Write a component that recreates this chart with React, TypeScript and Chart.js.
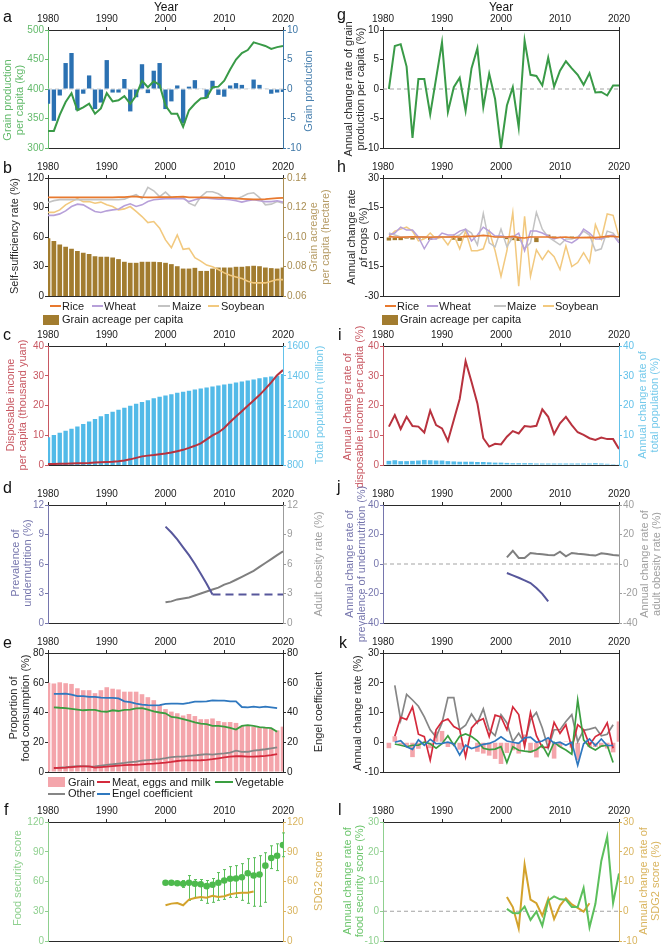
import React, { useEffect, useRef } from 'react';
import { Chart, registerables } from 'chart.js';

Chart.register(...registerables);

const FONT = "'Liberation Sans', Arial, Helvetica, sans-serif";
Chart.defaults.font.family = FONT;

/* ------------------------------------------------------------------ */
/* Data                                                                 */
/* ------------------------------------------------------------------ */

const YEAR_TICKS = [1980, 1990, 2000, 2010, 2020];

// (a) grain production per capita (kg) and grain production change
const grainPerCapitaFrom = 1980;
const grainPerCapita = [329, 329, 356, 378, 393, 364, 369, 375, 358, 367, 393, 379, 381, 388, 375, 389, 414, 403, 413, 407, 372, 358, 358, 336, 364, 375, 384, 385, 403, 404, 414, 433, 450, 461, 466, 479, 476, 473, 468, 471, 473];
const grainProductionFrom = 1980;
const grainProduction = [-2.5, -5.4, -1.1, 4.4, 6.1, -3.6, -0.8, 2.3, -3.4, -2.3, 4.9, -0.6, -0.6, 1.7, -3.8, -1.4, 4.2, -0.7, 3.1, 4.4, -3.4, -2.1, 0.6, -5.8, 0.4, 1.5, 0.1, -1.5, 1.4, -1.0, -1.3, 0.6, 1.0, 0.7, 0.1, 1.6, 0.7, 0.1, -0.8, -0.6, -0.5];
const aLeftTicks = [300, 350, 400, 450, 500];
const aRightTicks = [-10, -5, 0, 5, 10];

// (b) self-sufficiency rates (%) and grain acreage per capita (hectare)
const cropsFrom = 1980;
const riceSelf = [100.3, 100.3, 100.3, 100.3, 100.3, 100.3, 100.3, 100.3, 100.3, 100.3, 100.3, 100.3, 100.5, 100.5, 101, 101, 100.5, 100.3, 100.3, 100.5, 100.5, 100.5, 100.8, 101, 100.3, 100.3, 100.3, 100.3, 100, 100, 99.8, 99.5, 99.2, 98.8, 98.5, 98.3, 98.3, 98.5, 99, 99.5, 99.8];
const wheatSelf = [82, 82, 83.5, 86.6, 91, 93.4, 92.7, 89.3, 86, 85, 86.6, 87.6, 88.3, 91.7, 93.8, 91, 92.7, 96, 97.8, 98.5, 99, 99, 99, 99, 96, 97.8, 99.5, 99.5, 99, 98.5, 98.5, 97.8, 96.8, 95.5, 97, 97.8, 96.8, 96, 96, 96.8, 95.5];
const maizeSelf = [95, 97, 98, 98, 98, 98, 98, 98, 98, 98, 98, 98, 98, 98.5, 101, 103, 99, 110.5, 107, 101, 105.7, 100, 101, 101, 94.4, 91.7, 101, 106, 106, 104, 100, 99.5, 98.5, 101, 104, 105, 100, 92.7, 93.4, 96, 94.4];
const soybeanSelf = [85, 85, 87.6, 92.7, 96, 99, 96, 96, 94.4, 95.5, 92.7, 91, 87.6, 88.6, 91, 86, 80.8, 74.7, 75.7, 68.9, 57, 49, 62, 47.4, 48.4, 38.9, 35.5, 31.4, 29.7, 27, 23.5, 21.1, 19.4, 17.7, 15, 13.3, 13.3, 13.3, 15, 16.7, 16.7];
const acreagePerCapita = [0.0991, 0.0973, 0.095, 0.0934, 0.092, 0.0905, 0.0893, 0.0884, 0.087, 0.0866, 0.0866, 0.0861, 0.085, 0.0832, 0.0825, 0.0825, 0.0832, 0.0832, 0.0832, 0.083, 0.0825, 0.0816, 0.0802, 0.0786, 0.0786, 0.0791, 0.077, 0.077, 0.0786, 0.0793, 0.0793, 0.0793, 0.0798, 0.0798, 0.0802, 0.0805, 0.0802, 0.0793, 0.0789, 0.0786, 0.0793];
const bLeftTicks = [0, 30, 60, 90, 120];
const bRightTicks = [0.06, 0.08, 0.1, 0.12, 0.14];

// (c) disposable income per capita (thousand yuan) and total population (million)
const incomeFrom = 1980;
const income = [0.3, 0.33, 0.38, 0.42, 0.48, 0.55, 0.62, 0.69, 0.81, 0.91, 1.0, 1.1, 1.25, 1.55, 1.9, 2.4, 2.9, 3.15, 3.35, 3.6, 3.85, 4.2, 4.65, 5.1, 5.75, 6.45, 7.25, 8.6, 9.95, 10.95, 12.45, 14.45, 16.3, 18.1, 19.9, 21.7, 23.5, 25.6, 27.8, 30.2, 31.9];
const populationFrom = 1980;
const population = [987, 1001, 1017, 1030, 1044, 1059, 1075, 1093, 1110, 1127, 1143, 1158, 1172, 1185, 1199, 1211, 1224, 1236, 1248, 1258, 1267, 1276, 1285, 1292, 1300, 1308, 1314, 1321, 1328, 1335, 1341, 1347, 1354, 1361, 1368, 1375, 1383, 1390, 1395, 1400, 1412];
const cLeftTicks = [0, 10, 20, 30, 40];
const cRightTicks = [800, 1000, 1200, 1400, 1600];

// (d) prevalence of undernutrition (%) and adult obesity rate (%)
const undernutritionFrom = 2000;
const undernutrition = [9.8, 9.2, 8.5, 7.7, 6.9, 6.0, 5.0, 4.0, 2.9];
const undernutritionFloorYears = [2008, 2020];
const undernutritionFloor = [2.9, 2.9];
const obesityFrom = 2000;
const obesity = [2.1, 2.2, 2.4, 2.5, 2.6, 2.8, 3.0, 3.2, 3.4, 3.6, 3.9, 4.1, 4.4, 4.7, 5.0, 5.3, 5.7, 6.1, 6.5, 6.9, 7.3];
const dTicks = [0, 3, 6, 9, 12];

// (e) food consumption structure (%) and Engel coefficient
const grainShareFrom = 1980;
const grainShare = [60, 59.5, 60.3, 59.7, 59.2, 56.3, 55, 55, 53, 55, 57, 56, 55.5, 54, 54, 54, 52.3, 50.3, 48.3, 45, 42.3, 40.6, 39.5, 38, 39, 37.6, 35.5, 35.5, 36, 34.3, 33.5, 33.6, 33, 31, 31, 30.5, 30, 29.6, 29, 28, 30.5];
const foodLinesFrom = 1981;
const meatShare = [2.7, 2.8, 3.0, 3.3, 3.6, 3.8, 3.8, 3.0, 3.3, 3.6, 4.0, 4.3, 4.6, 4.8, 4.8, 5.1, 5.4, 5.6, 5.9, 6.3, 6.8, 7.4, 7.8, 7.8, 7.8, 7.9, 8.1, 8.6, 9.2, 9.8, 10.3, 10.6, 10.6, 10.3, 10.4, 10.6, 10.9, 11.4, 12.0];
const vegetableShare = [43.5, 43.2, 43, 42.5, 42, 41.5, 41.8, 41.7, 40.8, 40.5, 41.5, 41, 41.8, 42, 42.8, 43, 42, 40.8, 40, 39.5, 37, 36.5, 35.5, 34.5, 33.3, 32.5, 32.2, 31, 31, 30.5, 29.7, 28.5, 31, 31.5, 31, 30.2, 29.8, 29.5, 27];
const otherShare = [2.6, 2.9, 3.2, 3.6, 4.0, 4.0, 3.6, 3.8, 4.3, 4.8, 5.2, 5.7, 6.1, 6.6, 7.0, 7.6, 8.0, 8.3, 8.7, 9.3, 10.0, 10.4, 10.3, 10.8, 11.2, 11.6, 12.0, 11.7, 12.2, 12.5, 13.0, 14.3, 13.5, 13.6, 14.4, 14.8, 15.3, 15.9, 16.5];
const engel = [52.5, 52.5, 52.7, 52, 51, 51, 50.5, 50.5, 50, 49.8, 49.8, 49.5, 47.5, 47, 46, 45.3, 45, 44.8, 45, 45.8, 46, 46, 45.8, 46.5, 47.3, 47.3, 47.5, 48.2, 48, 48, 47.5, 47.5, 43.7, 43.5, 44, 43.5, 44, 43.5, 43];
const eTicks = [0, 20, 40, 60, 80];

// (f) food security score (mean, range) and SDG2 score
const foodSecurityFrom = 2000;
const foodSecurity = [58.7, 58.7, 58.3, 57.7, 58.7, 57.7, 57.3, 55.3, 56.7, 58.7, 61, 62.7, 63, 64.3, 68.3, 66, 67, 76, 83.7, 86, 96.7];
const foodSecurityLow = [58.2, 57.7, 56.8, 54, 41, 44, 41, 38, 39, 41, 42, 44, 44, 41, 38, 35, 35, 39, 73, 71, 85];
const foodSecurityHigh = [59.2, 59.7, 59.8, 61, 66, 62, 62, 61, 63, 69, 72, 75, 76, 78, 83, 84, 86, 89, 96, 98, 109];
const sdg2From = 2000;
const sdg2 = [36, 37.7, 38.2, 36, 41.7, 43.3, 44.3, 43.7, 45.5, 44.3, 45.2, 47.2, 48.2, 48.7, 48.7, 50];
const fTicks = [0, 30, 60, 90, 120];

// (g) annual change rate of grain production per capita (%)
const grainRateFrom = 1981;
const grainRate = [0, 7.3, 7.6, 3.8, -8.3, 1.7, 1.7, -4.3, 1.8, 7.9, -3.9, 0.3, 1.9, -3.7, 3.5, 6.9, -3.1, 2.6, -1.7, -10, -2.8, 0.3, -6.5, 8.2, 2.4, 2.2, 0.6, 5.3, 0.4, 3.1, 4.7, 3.5, 2.4, 0.7, 2.7, -0.6, -0.5, -1.1, 0.6, 0.6];
const gTicks = [-10, -5, 0, 5, 10];

// (h) annual change rate of crops (%)
const cropRateFrom = 1981;
const riceRate = [0.2, 0, -0.2, 0, 0.1, 0, 0, -0.1, 0, 0, 0, 0.1, 0, 0.3, 0.3, 0.5, 0.8, 0.5, 0, 0, 0, 0.3, -0.3, -0.5, 0, 0, 0, 0, -0.3, -0.2, 0, -0.4, -0.3, -0.3, -0.2, -0.3, 0, 0.3, 0.3, 0];
const wheatRate = [1, 2, 5, 3.5, 3.5, 0, -6, -1, -1, 2, 1, 1, 3, 4, -2, 1, 5, 3, 0.5, 0.5, 0, 0, 2, -7, 3, 3, 2, 0.5, -1, 0, -2, -3, -1, 4, 2, -1, -1, 0.5, 1, -3];
const maizeRate = [2, 1, 0, 0, 0, 0, 0, 0, 0, 0, 0, 0, 1, 4, 2, -4, 12, -3, -5, 4, -5, 0, 0, -6, -3, 12.5, 4, 0, -2, -4, -1, -1, 0, 3, 1, -7, -6, 3, 2, -2];
const soybeanRate = [0, 3, 4, 5, 3, -2, -1, 2, -1, 0, -4, 1, -6, 3, -7, -7, -6, 3, -7, -20, -7, 12.5, -25, 10.5, -20, -6.5, -11.5, -7, -10, -16.5, -4.5, -15, -13, -8, -13, 6.3, -1, 11.7, 11, 0];
const acreageRate = [-1.8, -1.6, -1.6, -0.8, -1.3, -0.9, -0.7, -1.5, -0.3, 0, -0.4, -1.4, -2.0, -0.5, 0, 0.5, 0, 0, -0.2, -0.4, -1.1, -1.6, -2, 0, 0.5, -2.6, 0, 1.2, 0.5, 0, 0, 0.5, 0, 0.3, 0.3, -0.3, -1.1, -0.5, -0.3, 0.5];
const hTicks = [-30, -15, 0, 15, 30];

// (i) annual change rate of disposable income and total population (%)
const incomeRateFrom = 1981;
const incomeRate = [12.9, 16.8, 12.1, 16.2, 13.1, 12.9, 10.9, 18.3, 13.4, 12.3, 8.1, 15.1, 22.2, 34.9, 28, 20.7, 9, 6.2, 7.1, 6.9, 9.5, 11.4, 10.6, 13.1, 12.9, 13.2, 18.7, 16.2, 10.4, 14, 16.2, 13.4, 11, 10.1, 9, 8.4, 9.2, 8.7, 8.7, 5.4];
const populationRate = [1.4, 1.6, 1.3, 1.3, 1.4, 1.5, 1.7, 1.6, 1.5, 1.5, 1.3, 1.2, 1.1, 1.1, 1.1, 1.0, 1.0, 0.9, 0.8, 0.8, 0.7, 0.6, 0.6, 0.6, 0.6, 0.5, 0.5, 0.5, 0.5, 0.5, 0.5, 0.5, 0.5, 0.5, 0.5, 0.6, 0.5, 0.4, 0.3, 0.1];
const iTicks = [0, 10, 20, 30, 40];

// (j) annual change rate of undernutrition and obesity (%)
const nutritionRateFrom = 2001;
const undernutritionRate = [-6.1, -7.7, -9.3, -11.1, -12.9, -16.3, -20.2, -25.4];
const obesityRate = [4.5, 9, 4.1, 4.1, 7.5, 7, 6.6, 6.1, 5.9, 8.4, 5.2, 7.5, 7, 6.6, 6.1, 5.7, 7.3, 6.8, 6.1, 5.7];
const jTicks = [-40, -20, 0, 20, 40];

// (k) annual change rate of food consumption structure (%)
const grainShareRateFrom = 1981;
const grainShareRate = [-2, 2, -0.8, -1.5, -5, -2.2, 0.3, -2, 3.5, 3.8, -1.6, -1, -2.5, 0.2, 0.2, -3.2, -3.8, -4.5, -5.6, -7.3, -3.6, -2.7, -3.8, 2.6, -3.6, -5.1, 0.2, 1.4, -5.5, -1.6, 0.3, -1.8, -6, 0.2, -1.6, -1.6, -1.6, -2.1, -3.4, 7];
const shareRateFrom = 1982;
const meatRate = [2, 8.4, 7.6, 11.9, 2.7, 1.9, -6, 4.2, 7, 7.8, 5.3, 4.2, -4.9, 4.8, 7, 7.9, 1.9, 9.1, 8.5, 4.2, 11.9, 9.3, -1.5, 10, 2.2, -1.7, -1.7, 6.7, 3, 5.9, -2, 5.9, 4.2, -0.9, 1.9, 3, 6.5, -2];
const otherRate = [19.1, 7.4, 16.1, 14.2, 12.1, 8.5, 4.2, 1.7, 6.5, 15, 15, 4.2, 5.7, 9.5, 6.5, 11.2, 4.2, 2.2, 9.3, 6.5, 0.2, 3, -0.3, 7.6, 10, 4.8, -2, 4.2, 4.2, 7, 9.3, 0.2, 4, 4.4, 5, 2.2, 2.7, 5.9];
const vegetableRate = [-0.6, -1, -1.5, -1, -1, 0, -0.5, -2, -0.5, 2.2, -1, 2, 2.8, 1.9, 0.5, -2, -2.5, -2.3, -1.5, -6.8, -1.5, -2.7, -3, -3.2, -2.5, -1, -4.6, 0, -1.5, -2.6, -4, 14.2, 0.8, -1.5, -2.6, -1.3, -1, -6.8];
const engelRate = [0, 0.5, -1.5, -2.4, 0.8, -1, 1, -0.5, -0.4, 0, -0.6, -4.3, -1, -2.1, -1.5, -0.7, -0.4, 0.4, 1.8, 0.4, 0, -0.4, 1.5, 1.7, 0, 0.4, 1.5, -0.4, 0, -1, 0, -7.7, -0.5, 1.1, -1.1, 1.1, -1.1, -1.1];
const kTicks = [-10, 0, 10, 20, 30];

// (l) annual change rate of food security score and SDG2 score (%)
const foodSecurityRateFrom = 2001;
const foodSecurityRate = [0.8, -0.6, -0.7, 1.6, -2.9, -0.1, -4.9, 3.6, 5, 4, 3.9, 1.4, 1.4, 7.8, -5.4, 2.5, 16.9, 25.1, 2.8, 12.7];
const sdg2RateFrom = 2001;
const sdg2Rate = [4.8, 1.4, -5.8, 15.7, 3.9, 2.7, -1.5, 4.2, -2.6, 1.9, 4.4, 2.3, 1.1, -0.1, 2.7];
const lTicks = [-10, 0, 10, 20, 30];

/* ------------------------------------------------------------------ */
/* Styles                                                               */
/* ------------------------------------------------------------------ */

const C = {
  frame: '#2a2a2a',
  tickText: '#1a1a1a',
  title: '#2a2a2a',
  aLine: '#399a47',
  aBar: '#2b71b2',
  aLeft: '#63ba6b',
  aRight: '#3c76a6',
  rice: '#e8792e',
  wheat: '#b7a0d9',
  maize: '#c3c3c3',
  soybean: '#f2c97f',
  acreage: '#a27c2f',
  acreageAxis: '#a98d52',
  income: '#b8323e',
  incomeAxis: '#c85862',
  population: '#52bae8',
  populationAxis: '#64c2ea',
  under: '#57579b',
  underAxis: '#7676ad',
  obesity: '#7f7f7f',
  obesityAxis: '#9c9c9c',
  grain: '#f4a5ab',
  meat: '#d42a3c',
  veg: '#3a9e40',
  other: '#868686',
  engel: '#2f78bf',
  fs: '#4dba4d',
  fsAxis: '#8fd08f',
  fsRate: '#5cbf5c',
  sdg: '#d3a22c',
  sdgAxis: '#d9b45e',
  zero: '#a3a3a3',
};

/* ------------------------------------------------------------------ */
/* Chart building                                                       */
/* ------------------------------------------------------------------ */

const COLS = [
  { x0: 0, w: 330, l: 48, r: 283 },
  { x0: 330, w: 331, l: 383, r: 619 },
];
const ROWS = [
  { t: 30, b: 148 },
  { t: 178, b: 296 },
  { t: 346, b: 465 },
  { t: 505, b: 623 },
  { t: 653, b: 772 },
  { t: 822, b: 941 },
];
const TOP_BAND = 24;
const BOTTOM_BAND = 8;
const TICK_FONT = { family: FONT, size: 10 };

const pts = (from: number, values: number[]) => values.map((y, i) => ({ x: from + i, y }));
const pairs = (xs: number[], ys: number[]) => xs.map((x, i) => ({ x, y: ys[i] }));

const line = (data: any[], color: string, axis: string, width = 1.7, extra: any = {}) => ({
  type: 'line',
  data,
  borderColor: color,
  backgroundColor: color,
  borderWidth: width,
  pointRadius: 0,
  tension: 0,
  fill: false,
  xAxisID: 'x',
  yAxisID: axis,
  order: 1,
  ...extra,
});

const bar = (data: any[], color: string, axis: string, pct: number) => ({
  type: 'bar',
  data,
  backgroundColor: color,
  borderWidth: 0,
  xAxisID: 'x',
  yAxisID: axis,
  barPercentage: pct,
  categoryPercentage: 1,
  order: 5,
});

const zeroLine = (axis: string, color = C.zero) => ({
  type: 'line',
  data: [
    { x: YEAR_TICKS[0], y: 0 },
    { x: YEAR_TICKS[YEAR_TICKS.length - 1], y: 0 },
  ],
  borderColor: color,
  borderWidth: 1,
  borderDash: [4, 3],
  pointRadius: 0,
  xAxisID: 'x',
  yAxisID: axis,
  order: 9,
});

type AxisSpec = { ticks?: number[]; color: string; text?: string; decimals?: number };
type PanelSpec = { col: number; row: number; left: AxisSpec; right: AxisSpec; datasets: any[]; plugins?: any[] };

function yScale(a: AxisSpec, position: 'left' | 'right', width: number) {
  const has = Array.isArray(a.ticks) && a.ticks.length > 0;
  const tv = has ? (a.ticks as number[]) : [0, 1];
  return {
    type: 'linear',
    position,
    min: tv[0],
    max: tv[tv.length - 1],
    afterBuildTicks: (s: any) => {
      if (has) s.ticks = tv.map((value) => ({ value }));
    },
    afterFit: (s: any) => {
      s.width = width;
    },
    grid: {
      display: has,
      drawOnChartArea: false,
      drawTicks: true,
      tickLength: 3,
      color: a.color,
      tickColor: a.color,
      lineWidth: 1,
    },
    border: { display: true, color: a.color, width: 1 },
    ticks: {
      display: has,
      color: a.text || a.color,
      font: TICK_FONT,
      padding: 1,
      autoSkip: false,
      callback: (v: any) => Number(v).toFixed(a.decimals || 0),
    },
  };
}

function buildConfig(p: PanelSpec): any {
  const c = COLS[p.col];
  return {
    type: 'line',
    data: { datasets: p.datasets },
    plugins: p.plugins || [],
    options: {
      responsive: false,
      maintainAspectRatio: false,
      animation: false,
      devicePixelRatio: 1,
      events: [],
      layout: { padding: { left: 0, right: 0, top: 0, bottom: BOTTOM_BAND }, autoPadding: false },
      plugins: { legend: { display: false }, tooltip: { enabled: false }, title: { display: false } },
      scales: {
        x: {
          type: 'linear',
          position: 'top',
          min: YEAR_TICKS[0],
          max: YEAR_TICKS[YEAR_TICKS.length - 1],
          offset: false,
          afterBuildTicks: (s: any) => {
            s.ticks = YEAR_TICKS.map((value) => ({ value }));
          },
          afterFit: (s: any) => {
            s.height = TOP_BAND;
          },
          grid: { display: true, drawOnChartArea: false, drawTicks: true, tickLength: 3, color: C.frame, offset: false },
          border: { display: true, color: C.frame, width: 1 },
          ticks: {
            color: C.tickText,
            font: TICK_FONT,
            padding: 2,
            maxRotation: 0,
            autoSkip: false,
            callback: (v: any) => String(v),
          },
        },
        xb: {
          type: 'linear',
          position: 'bottom',
          min: YEAR_TICKS[0],
          max: YEAR_TICKS[YEAR_TICKS.length - 1],
          offset: false,
          afterFit: (s: any) => {
            s.height = 0;
          },
          grid: { display: false },
          ticks: { display: false },
          border: { display: true, color: C.frame, width: 1 },
        },
        y: yScale(p.left, 'left', c.l - c.x0),
        y2: yScale(p.right, 'right', c.x0 + c.w - c.r),
      },
    },
  };
}

// Whiskers for the food security score range, drawn under the mean markers
const foodSecurityRange = {
  id: 'foodSecurityRange',
  beforeDatasetsDraw(chart: any) {
    const { ctx, scales } = chart;
    const xs = scales.x;
    const ys = scales.y;
    ctx.save();
    ctx.strokeStyle = C.fsRate;
    ctx.lineWidth = 1;
    foodSecurityLow.forEach((lo, i) => {
      const hi = foodSecurityHigh[i];
      const px = Math.round(xs.getPixelForValue(foodSecurityFrom + i)) + 0.5;
      const y1 = ys.getPixelForValue(lo);
      const y2 = ys.getPixelForValue(hi);
      ctx.beginPath();
      ctx.moveTo(px, y1);
      ctx.lineTo(px, y2);
      ctx.moveTo(px - 1.5, y1);
      ctx.lineTo(px + 1.5, y1);
      ctx.moveTo(px - 1.5, y2);
      ctx.lineTo(px + 1.5, y2);
      ctx.stroke();
    });
    ctx.restore();
  },
};

const BLACK_AXIS = { color: C.frame, text: C.tickText };

const PANELS: PanelSpec[] = [
  // a
  {
    col: 0,
    row: 0,
    left: { ticks: aLeftTicks, color: C.aLeft },
    right: { ticks: aRightTicks, color: C.aRight },
    datasets: [
      line(pts(grainPerCapitaFrom, grainPerCapita), C.aLine, 'y', 2),
      bar(pts(grainProductionFrom, grainProduction), C.aBar, 'y2', 0.74),
      zeroLine('y2', '#cfcfcf'),
    ],
  },
  // b
  {
    col: 0,
    row: 1,
    left: { ticks: bLeftTicks, ...BLACK_AXIS },
    right: { ticks: bRightTicks, color: C.acreageAxis, decimals: 2 },
    datasets: [
      line(pts(cropsFrom, riceSelf), C.rice, 'y', 1.7, { order: 1 }),
      line(pts(cropsFrom, wheatSelf), C.wheat, 'y', 1.6, { order: 2 }),
      line(pts(cropsFrom, maizeSelf), C.maize, 'y', 1.6, { order: 3 }),
      line(pts(cropsFrom, soybeanSelf), C.soybean, 'y', 1.6, { order: 4 }),
      bar(pts(cropsFrom, acreagePerCapita), C.acreage, 'y2', 0.8),
    ],
  },
  // c
  {
    col: 0,
    row: 2,
    left: { ticks: cLeftTicks, color: C.incomeAxis },
    right: { ticks: cRightTicks, color: C.populationAxis },
    datasets: [
      line(pts(incomeFrom, income), C.income, 'y', 2),
      bar(pts(populationFrom, population), C.population, 'y2', 0.74),
    ],
  },
  // d
  {
    col: 0,
    row: 3,
    left: { ticks: dTicks, color: C.underAxis },
    right: { ticks: dTicks, color: C.obesityAxis },
    datasets: [
      line(pts(undernutritionFrom, undernutrition), C.under, 'y', 2),
      line(pairs(undernutritionFloorYears, undernutritionFloor), C.under, 'y', 2, { borderDash: [8, 5] }),
      line(pts(obesityFrom, obesity), C.obesity, 'y2', 2),
    ],
  },
  // e
  {
    col: 0,
    row: 4,
    left: { ticks: eTicks, ...BLACK_AXIS },
    right: { ticks: eTicks, ...BLACK_AXIS },
    datasets: [
      line(pts(foodLinesFrom, meatShare), C.meat, 'y', 1.8),
      line(pts(foodLinesFrom, vegetableShare), C.veg, 'y', 1.8),
      line(pts(foodLinesFrom, otherShare), C.other, 'y', 1.8),
      line(pts(foodLinesFrom, engel), C.engel, 'y2', 1.8),
      bar(pts(grainShareFrom, grainShare), C.grain, 'y', 0.78),
    ],
  },
  // f
  {
    col: 0,
    row: 5,
    left: { ticks: fTicks, color: C.fsAxis },
    right: { ticks: fTicks, color: C.sdgAxis },
    plugins: [foodSecurityRange],
    datasets: [
      line(pts(foodSecurityFrom, foodSecurity), C.fs, 'y', 0, {
        showLine: false,
        pointRadius: 3.3,
        pointBackgroundColor: C.fs,
        pointBorderWidth: 0,
        order: 1,
      }),
      line(pts(sdg2From, sdg2), C.sdg, 'y2', 2, { order: 2 }),
    ],
  },
  // g
  {
    col: 1,
    row: 0,
    left: { ticks: gTicks, ...BLACK_AXIS },
    right: { color: C.frame },
    datasets: [line(pts(grainRateFrom, grainRate), C.aLine, 'y', 2), zeroLine('y')],
  },
  // h
  {
    col: 1,
    row: 1,
    left: { ticks: hTicks, ...BLACK_AXIS },
    right: { color: C.frame },
    datasets: [
      line(pts(cropRateFrom, riceRate), C.rice, 'y', 1.6, { order: 1 }),
      line(pts(cropRateFrom, wheatRate), C.wheat, 'y', 1.5, { order: 2 }),
      line(pts(cropRateFrom, maizeRate), C.maize, 'y', 1.5, { order: 3 }),
      line(pts(cropRateFrom, soybeanRate), C.soybean, 'y', 1.5, { order: 4 }),
      bar(pts(cropRateFrom, acreageRate), C.acreage, 'y', 0.75),
    ],
  },
  // i
  {
    col: 1,
    row: 2,
    left: { ticks: iTicks, color: C.incomeAxis },
    right: { ticks: iTicks, color: C.populationAxis },
    datasets: [
      line(pts(incomeRateFrom, incomeRate), C.income, 'y', 2),
      bar(pts(incomeRateFrom, populationRate), C.population, 'y2', 0.8),
    ],
  },
  // j
  {
    col: 1,
    row: 3,
    left: { ticks: jTicks, color: C.underAxis },
    right: { ticks: jTicks, color: C.obesityAxis },
    datasets: [
      line(pts(nutritionRateFrom, obesityRate), C.obesity, 'y2', 2),
      line(pts(nutritionRateFrom, undernutritionRate), C.under, 'y', 2),
      zeroLine('y'),
    ],
  },
  // k
  {
    col: 1,
    row: 4,
    left: { ticks: kTicks, ...BLACK_AXIS },
    right: { color: C.frame },
    datasets: [
      line(pts(shareRateFrom, engelRate), C.engel, 'y', 1.7, { order: 1 }),
      line(pts(shareRateFrom, vegetableRate), C.veg, 'y', 1.7, { order: 2 }),
      line(pts(shareRateFrom, meatRate), C.meat, 'y', 1.7, { order: 3 }),
      line(pts(shareRateFrom, otherRate), C.other, 'y', 1.7, { order: 4 }),
      bar(pts(grainShareRateFrom, grainShareRate), C.grain, 'y', 0.78),
    ],
  },
  // l
  {
    col: 1,
    row: 5,
    left: { ticks: lTicks, color: C.fsAxis },
    right: { ticks: lTicks, color: C.sdgAxis },
    datasets: [
      line(pts(foodSecurityRateFrom, foodSecurityRate), C.fsRate, 'y', 2),
      line(pts(sdg2RateFrom, sdg2Rate), C.sdg, 'y2', 2),
      zeroLine('y'),
    ],
  },
];

/* ------------------------------------------------------------------ */
/* Text overlays                                                        */
/* ------------------------------------------------------------------ */

const AXIS_TITLES = [
  { x: 12.5, y: 100, lines: ['Grain production', 'per capita (kg)'], color: C.aLeft },
  { x: 308.5, y: 91, lines: ['Grain production'], color: '#4b82b0' },
  { x: 15, y: 236, lines: ['Self-sufficiency rate (%)'], color: C.title },
  { x: 319, y: 237, lines: ['Grain acreage', 'per capita (hectare)'], color: '#b69c66' },
  { x: 15.5, y: 405, lines: ['Disposable income', 'per capita (thousand yuan)'], color: C.incomeAxis },
  { x: 320, y: 405, lines: ['Total population (million)'], color: '#74c9eb' },
  { x: 21, y: 563, lines: ['Prevalence of', 'undernutrition (%)'], color: C.underAxis },
  { x: 319, y: 564, lines: ['Adult obesity rate (%)'], color: '#a0a0a0' },
  { x: 19, y: 708, lines: ['Proportion of', 'food consumption (%)'], color: C.title },
  { x: 319, y: 712, lines: ['Engel coefficient'], color: C.title },
  { x: 17.5, y: 878, lines: ['Food security score'], color: C.fsAxis },
  { x: 319, y: 881, lines: ['SDG2 score'], color: C.sdgAxis },
  { x: 354, y: 89, lines: ['Annual change rate of grain', 'production per capita (%)'], color: C.title },
  { x: 357, y: 237, lines: ['Annual change rate', 'of crops (%)'], color: C.title },
  { x: 353, y: 407, lines: ['Annual change rate of', 'disposable income per capita (%)'], color: C.incomeAxis },
  { x: 648, y: 405, lines: ['Annual change rate of', 'total population (%)'], color: '#74c9eb' },
  { x: 355, y: 564, lines: ['Annual change rate of', 'prevalence of undernutrition (%)'], color: C.underAxis },
  { x: 650, y: 564, lines: ['Annual change rate of', 'adult obesity rate (%)'], color: '#a0a0a0' },
  { x: 357.5, y: 713, lines: ['Annual change rate (%)'], color: C.title },
  { x: 353, y: 881, lines: ['Annual change rate of', 'food security score (%)'], color: '#6cc56c' },
  { x: 649, y: 881, lines: ['Annual change rate of', 'SDG2 score (%)'], color: C.sdgAxis },
];

const PANEL_LETTERS = [
  { t: 'a', x: 3, base: 22 },
  { t: 'b', x: 3, base: 173 },
  { t: 'c', x: 3, base: 340 },
  { t: 'd', x: 3, base: 493 },
  { t: 'e', x: 3, base: 648 },
  { t: 'f', x: 4, base: 815 },
  { t: 'g', x: 337, base: 20 },
  { t: 'h', x: 337, base: 172 },
  { t: 'i', x: 338, base: 340 },
  { t: 'j', x: 337, base: 492 },
  { t: 'k', x: 339, base: 648 },
  { t: 'l', x: 338, base: 815 },
];

const YEAR_TITLES = [
  { x: 166, y: 6.5 },
  { x: 501, y: 6.5 },
];

type LegendItem = { kind: 'line' | 'box'; x: number; y: number; w: number; color: string; label: string; tx: number };

const LEGEND_ITEMS: LegendItem[] = [
  { kind: 'line', x: 50, y: 306, w: 11, color: C.rice, label: 'Rice', tx: 62 },
  { kind: 'line', x: 92, y: 306, w: 11, color: C.wheat, label: 'Wheat', tx: 104 },
  { kind: 'line', x: 158, y: 306, w: 12, color: C.maize, label: 'Maize', tx: 172 },
  { kind: 'line', x: 208, y: 306, w: 11, color: C.soybean, label: 'Soybean', tx: 221 },
  { kind: 'box', x: 43, y: 319.5, w: 16, color: C.acreage, label: 'Grain acreage per capita', tx: 62 },
  { kind: 'line', x: 385, y: 306, w: 11, color: C.rice, label: 'Rice', tx: 397 },
  { kind: 'line', x: 427, y: 306, w: 11, color: C.wheat, label: 'Wheat', tx: 439 },
  { kind: 'line', x: 494, y: 306, w: 12, color: C.maize, label: 'Maize', tx: 507 },
  { kind: 'line', x: 543, y: 306, w: 11, color: C.soybean, label: 'Soybean', tx: 555 },
  { kind: 'box', x: 382, y: 319.5, w: 16, color: C.acreage, label: 'Grain acreage per capita', tx: 400 },
  { kind: 'box', x: 48, y: 782, w: 17, color: C.grain, label: 'Grain', tx: 68 },
  { kind: 'line', x: 97, y: 782, w: 13, color: C.meat, label: 'Meat, eggs and milk', tx: 112 },
  { kind: 'line', x: 215, y: 782, w: 18, color: C.veg, label: 'Vegetable', tx: 235 },
  { kind: 'line', x: 48, y: 793.5, w: 17, color: C.other, label: 'Other', tx: 68 },
  { kind: 'line', x: 97, y: 793.5, w: 13, color: C.engel, label: 'Engel coefficient', tx: 112 },
];

/* ------------------------------------------------------------------ */
/* Components                                                           */
/* ------------------------------------------------------------------ */

function PanelCanvas({ spec }: { spec: PanelSpec }) {
  const ref = useRef<HTMLCanvasElement | null>(null);
  const col = COLS[spec.col];
  const row = ROWS[spec.row];
  const top = row.t - TOP_BAND;
  const height = row.b - row.t + TOP_BAND + BOTTOM_BAND;

  useEffect(() => {
    if (!ref.current) return;
    const chart = new Chart(ref.current, buildConfig(spec));
    return () => chart.destroy();
  }, [spec]);

  return (
    <canvas
      ref={ref}
      width={col.w}
      height={height}
      style={{ position: 'absolute', left: col.x0, top, width: col.w, height }}
    />
  );
}

function RotatedTitle({ x, y, lines, color }: { x: number; y: number; lines: string[]; color: string }) {
  return (
    <div
      style={{
        position: 'absolute',
        left: x,
        top: y,
        width: 'max-content',
        transform: 'translate(-50%, -50%) rotate(-90deg)',
        whiteSpace: 'nowrap',
        textAlign: 'center',
        color,
        fontSize: 11,
        lineHeight: '11.5px',
        fontFamily: FONT,
      }}
    >
      {lines.map((l, i) => (
        <div key={i}>{l}</div>
      ))}
    </div>
  );
}

export default function App() {
  return (
    <div
      style={{
        position: 'absolute',
        left: 0,
        top: 0,
        width: 661,
        height: 947,
        overflow: 'hidden',
        background: '#ffffff',
        fontFamily: FONT,
      }}
    >
      {PANELS.map((p, i) => (
        <PanelCanvas key={i} spec={p} />
      ))}

      {YEAR_TITLES.map((t, i) => (
        <div
          key={'yr' + i}
          style={{
            position: 'absolute',
            left: t.x,
            top: t.y,
            transform: 'translate(-50%, -50%)',
            width: 'max-content',
            fontSize: 12,
            lineHeight: '12px',
            color: '#111',
          }}
        >
          Year
        </div>
      ))}

      {PANEL_LETTERS.map((l) => (
        <div
          key={l.t}
          style={{
            position: 'absolute',
            left: l.x,
            top: l.base - 13.5,
            fontSize: 16,
            lineHeight: '16px',
            color: '#111',
          }}
        >
          {l.t}
        </div>
      ))}

      {AXIS_TITLES.map((t, i) => (
        <RotatedTitle key={'at' + i} {...t} />
      ))}

      {LEGEND_ITEMS.map((it, i) => (
        <React.Fragment key={'lg' + i}>
          <div
            style={{
              position: 'absolute',
              left: it.x,
              top: it.kind === 'line' ? it.y - 1 : it.y - 5,
              width: it.w,
              height: it.kind === 'line' ? 2 : 10,
              background: it.color,
            }}
          />
          <div
            style={{
              position: 'absolute',
              left: it.tx,
              top: it.y - 6.5,
              width: 'max-content',
              fontSize: 11,
              lineHeight: '13px',
              color: '#1a1a1a',
              whiteSpace: 'nowrap',
            }}
          >
            {it.label}
          </div>
        </React.Fragment>
      ))}
    </div>
  );
}
